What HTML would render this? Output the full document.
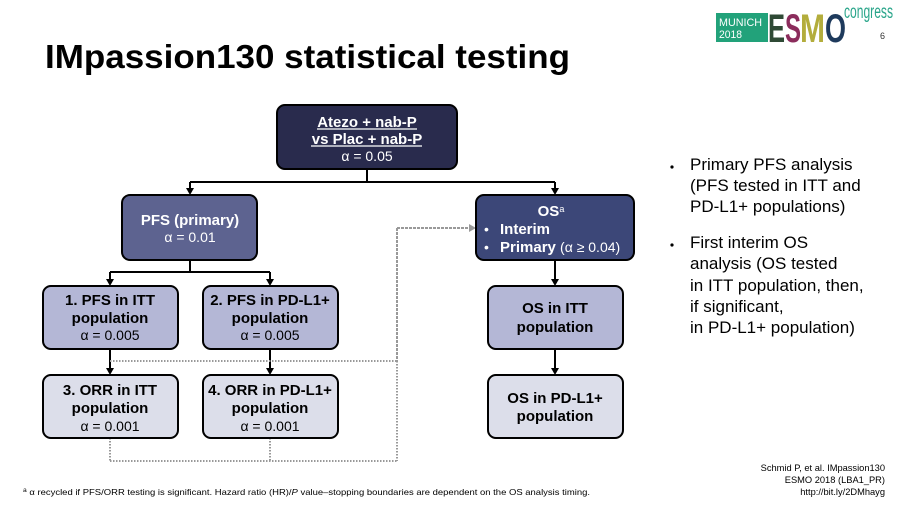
<!DOCTYPE html>
<html>
<head>
<meta charset="utf-8">
<style>
  html,body{margin:0;padding:0;background:#fff;}
  svg{display:block;}
  text{font-family:"Liberation Sans", Arial, sans-serif;}
</style>
</head>
<body>
<svg width="900" height="506" viewBox="0 0 900 506" xmlns="http://www.w3.org/2000/svg">
  <rect width="900" height="506" fill="#fff"/>

  <!-- Logo -->
  <rect x="716" y="13" width="52" height="29" fill="#22a27a"/>
  <text x="719" y="26" font-size="11" fill="#fff" textLength="43" lengthAdjust="spacingAndGlyphs">MUNICH</text>
  <text x="719" y="38" font-size="11" fill="#fff" textLength="23" lengthAdjust="spacingAndGlyphs">2018</text>
  <text x="768" y="42" font-size="40" font-weight="bold" fill="#2f4a35" textLength="17" lengthAdjust="spacingAndGlyphs">E</text>
  <text x="785" y="42" font-size="40" font-weight="bold" fill="#8b2c5c" textLength="16" lengthAdjust="spacingAndGlyphs">S</text>
  <text x="800" y="42" font-size="40" font-weight="bold" fill="#b3ad3c" textLength="25" lengthAdjust="spacingAndGlyphs">M</text>
  <text x="825" y="42" font-size="40" font-weight="bold" fill="#1e3a5c" textLength="21" lengthAdjust="spacingAndGlyphs">O</text>
  <text x="844" y="18" font-size="19" fill="#2aa58a" textLength="49" lengthAdjust="spacingAndGlyphs">congress</text>
  <text x="880" y="39" font-size="9" fill="#333">6</text>

  <!-- Title -->
  <text x="45" y="68" font-size="33" font-weight="bold" fill="#000" textLength="525" lengthAdjust="spacingAndGlyphs">IMpassion130 statistical testing</text>

  <!-- Solid connectors -->
  <g stroke="#000" stroke-width="2" fill="none">
    <line x1="367" y1="169" x2="367" y2="182"/>
    <line x1="190" y1="182" x2="555" y2="182"/>
    <line x1="190" y1="182" x2="190" y2="189"/>
    <line x1="555" y1="182" x2="555" y2="189"/>
    <line x1="190" y1="260" x2="190" y2="272"/>
    <line x1="110" y1="272" x2="270" y2="272"/>
    <line x1="110" y1="272" x2="110" y2="280"/>
    <line x1="270" y1="272" x2="270" y2="280"/>
    <line x1="110" y1="349" x2="110" y2="369"/>
    <line x1="270" y1="349" x2="270" y2="369"/>
    <line x1="555" y1="260" x2="555" y2="280"/>
    <line x1="555" y1="349" x2="555" y2="369"/>
  </g>
  <g fill="#000">
    <polygon points="186,188 194,188 190,195"/>
    <polygon points="551,188 559,188 555,195"/>
    <polygon points="106,279 114,279 110,286"/>
    <polygon points="266,279 274,279 270,286"/>
    <polygon points="106,368 114,368 110,375"/>
    <polygon points="266,368 274,368 270,375"/>
    <polygon points="551,279 559,279 555,286"/>
    <polygon points="551,368 559,368 555,375"/>
  </g>

  <!-- Dotted connectors -->
  <g stroke="#999" stroke-width="2" fill="none" stroke-dasharray="1.5 1.5">
    <line x1="110" y1="361" x2="397" y2="361"/>
    <line x1="397" y1="361" x2="397" y2="461"/>
    <line x1="110" y1="438" x2="110" y2="461"/>
    <line x1="270" y1="438" x2="270" y2="461"/>
    <line x1="110" y1="461" x2="397" y2="461"/>
  </g>
  <g stroke="#999" stroke-width="2" fill="none" stroke-dasharray="3 1">
    <line x1="397" y1="228" x2="397" y2="361"/>
    <line x1="397" y1="228" x2="470" y2="228"/>
  </g>
  <polygon points="469,224 476,228 469,232" fill="#999"/>

  <!-- Boxes -->
  <g stroke="#000" stroke-width="2">
    <rect x="277" y="105" width="180" height="64" rx="8" fill="#292b4d"/>
    <rect x="122" y="195" width="135" height="65" rx="8" fill="#5d6390"/>
    <rect x="476" y="195" width="158" height="65" rx="8" fill="#3c4778"/>
    <rect x="43" y="286" width="135" height="63" rx="8" fill="#b4b7d6"/>
    <rect x="203" y="286" width="135" height="63" rx="8" fill="#b4b7d6"/>
    <rect x="43" y="375" width="135" height="63" rx="8" fill="#dcdeea"/>
    <rect x="203" y="375" width="135" height="63" rx="8" fill="#dcdeea"/>
    <rect x="488" y="286" width="135" height="63" rx="8" fill="#b4b7d6"/>
    <rect x="488" y="375" width="135" height="63" rx="8" fill="#dcdeea"/>
  </g>

  <!-- Top box text -->
  <g fill="#fff" text-anchor="middle">
    <text x="367" y="127" font-size="15" font-weight="bold">Atezo + nab-P</text>
    <line x1="317" y1="129" x2="417" y2="129" stroke="#fff" stroke-width="1.3"/>
    <text x="367" y="144" font-size="15" font-weight="bold">vs Plac + nab-P</text>
    <line x1="311" y1="146" x2="422" y2="146" stroke="#fff" stroke-width="1.3"/>
    <text x="367" y="161" font-size="14">α = 0.05</text>
  </g>

  <!-- PFS box -->
  <g fill="#fff" text-anchor="middle">
    <text x="190" y="225" font-size="15" font-weight="bold">PFS (primary)</text>
    <text x="190" y="242" font-size="14">α = 0.01</text>
  </g>

  <!-- OS box -->
  <g fill="#fff">
    <text x="551" y="216" font-size="15" font-weight="bold" text-anchor="middle">OS<tspan font-size="9" dy="-4" font-weight="normal">a</tspan></text>
    <text x="484" y="234" font-size="14">•</text>
    <text x="500" y="234" font-size="15" font-weight="bold">Interim</text>
    <text x="484" y="252" font-size="14">•</text>
    <text x="500" y="252" font-size="15" font-weight="bold">Primary <tspan font-weight="normal" font-size="14">(α ≥ 0.04)</tspan></text>
  </g>

  <!-- Level 2/3 boxes -->
  <g fill="#000" text-anchor="middle">
    <text x="110" y="305" font-size="15" font-weight="bold">1. PFS in ITT</text>
    <text x="110" y="323" font-size="15" font-weight="bold">population</text>
    <text x="110" y="340" font-size="14">α = 0.005</text>

    <text x="270" y="305" font-size="15" font-weight="bold">2. PFS in PD-L1+</text>
    <text x="270" y="323" font-size="15" font-weight="bold">population</text>
    <text x="270" y="340" font-size="14">α = 0.005</text>

    <text x="110" y="395" font-size="15" font-weight="bold">3. ORR in ITT</text>
    <text x="110" y="413" font-size="15" font-weight="bold">population</text>
    <text x="110" y="431" font-size="14">α = 0.001</text>

    <text x="270" y="395" font-size="15" font-weight="bold">4. ORR in PD-L1+</text>
    <text x="270" y="413" font-size="15" font-weight="bold">population</text>
    <text x="270" y="431" font-size="14">α = 0.001</text>

    <text x="555" y="313" font-size="15" font-weight="bold">OS in ITT</text>
    <text x="555" y="332" font-size="15" font-weight="bold">population</text>

    <text x="555" y="403" font-size="15" font-weight="bold">OS in PD-L1+</text>
    <text x="555" y="421" font-size="15" font-weight="bold">population</text>
  </g>

  <!-- Right bullets -->
  <g fill="#000" font-size="17">
    <circle cx="672" cy="167" r="1.6"/>
    <text x="690" y="170">Primary PFS analysis</text>
    <text x="690" y="191">(PFS tested in ITT and</text>
    <text x="690" y="212">PD-L1+ populations)</text>
    <circle cx="672" cy="245" r="1.6"/>
    <text x="690" y="248">First interim OS</text>
    <text x="690" y="269">analysis (OS tested</text>
    <text x="690" y="291">in ITT population, then,</text>
    <text x="690" y="312">if significant,</text>
    <text x="690" y="333">in PD-L1+ population)</text>
  </g>

  <!-- Footnote -->
  <text x="23" y="495" font-size="8.5" fill="#000" textLength="567" lengthAdjust="spacingAndGlyphs"><tspan font-size="6" dy="-3">a</tspan><tspan dy="3"> α recycled if PFS/ORR testing is significant. Hazard ratio (HR)/</tspan><tspan font-style="italic">P</tspan><tspan> value–stopping boundaries are dependent on the OS analysis timing.</tspan></text>

  <!-- Reference -->
  <g fill="#000" font-size="9.3" text-anchor="end">
    <text x="885" y="471">Schmid P, et al. IMpassion130</text>
    <text x="885" y="483">ESMO 2018 (LBA1_PR)</text>
    <text x="885" y="495">http://bit.ly/2DMhayg</text>
  </g>
</svg>
</body>
</html>
